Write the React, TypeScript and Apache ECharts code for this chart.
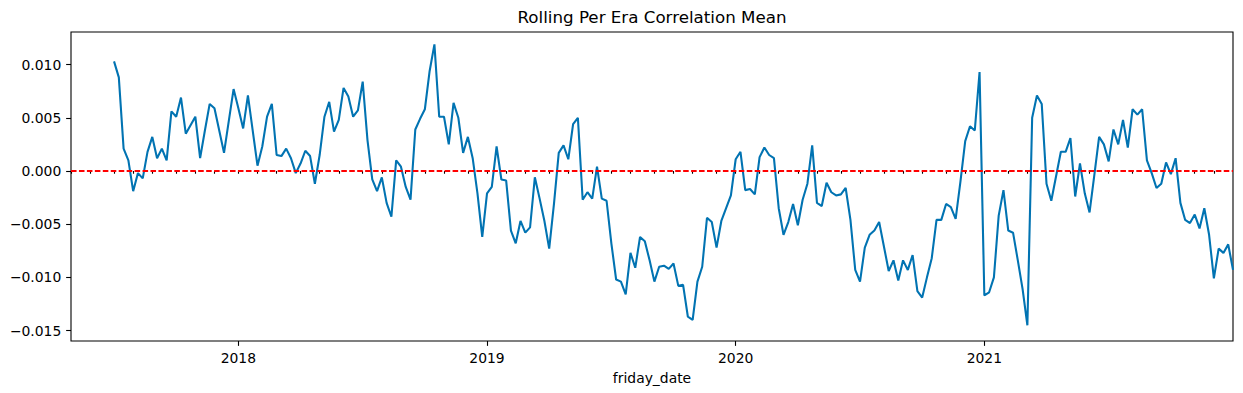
import React, { useEffect, useRef } from "react";
import * as echarts from "echarts";

// ---- data -------------------------------------------------------------
const TITLE = "Rolling Per Era Correlation Mean";
const X_NAME = "friday_date";
// weekly (W-FRI) index of the frame; the rolling window leaves the first weeks empty
const INDEX_START = "2017-05-05";
const INDEX_END = "2021-12-31";
const FIRST_VALID_FRIDAY = "2017-07-07";

const rollingCorrMean: number[] = [
  0.0103, 0.0088, 0.0021, 0.001, -0.0019, -0.0002, -0.0007, 0.0018, 0.0032, 0.0012,
  0.0021, 0.001, 0.0056, 0.0051, 0.0069, 0.0035, 0.0043, 0.0051, 0.0012, 0.0038,
  0.0063, 0.0059, 0.0038, 0.0017, 0.0047, 0.0077, 0.0059, 0.004, 0.0071, 0.0038,
  0.0005, 0.0023, 0.0051, 0.0063, 0.0015, 0.0014, 0.0021, 0.0012, -0.0002, 0.0007,
  0.0019, 0.0014, -0.0012, 0.0015, 0.0051, 0.0065, 0.0037, 0.0048, 0.0078, 0.007,
  0.0051, 0.0057, 0.0084, 0.0029, -0.0008, -0.0019, -0.0006, -0.003, -0.0043, 0.001,
  0.0004, -0.0015, -0.0027, 0.0039, 0.0049, 0.0058, 0.0094, 0.0119, 0.0051, 0.0051,
  0.0025, 0.0064, 0.005, 0.0017, 0.0032, 0.0012, -0.0021, -0.0062, -0.0021, -0.0015,
  0.0023, -0.0008, -0.0009, -0.0056, -0.0068, -0.0047, -0.0058, -0.0053, -0.0006, -0.0026,
  -0.0047, -0.0073, -0.0031, 0.0017, 0.0024, 0.0011, 0.0044, 0.005, -0.0027, -0.002,
  -0.0026, 0.0004, -0.0026, -0.0028, -0.0068, -0.0102, -0.0104, -0.0116, -0.0077, -0.0091,
  -0.0062, -0.0066, -0.0084, -0.0104, -0.009, -0.0089, -0.0092, -0.0087, -0.0108, -0.0107,
  -0.0137, -0.014, -0.0104, -0.009, -0.0044, -0.0048, -0.0072, -0.0047, -0.0035, -0.0023,
  0.0011, 0.0018, -0.0018, -0.0017, -0.0022, 0.0013, 0.0022, 0.0015, 0.0012, -0.0035,
  -0.006, -0.0048, -0.0031, -0.0051, -0.0027, -0.0012, 0.0024, -0.003, -0.0033, -0.0011,
  -0.002, -0.0023, -0.0022, -0.0016, -0.0046, -0.0093, -0.0104, -0.0072, -0.006, -0.0056,
  -0.0048, -0.0071, -0.0094, -0.0084, -0.0103, -0.0084, -0.0093, -0.0079, -0.0113, -0.0119,
  -0.01, -0.0082, -0.0046, -0.0046, -0.0031, -0.0034, -0.0045, -0.001, 0.0028, 0.0042,
  0.0038, 0.0093, -0.0117, -0.0114, -0.01, -0.0042, -0.0018, -0.0056, -0.0058, -0.0084,
  -0.0111, -0.0145, 0.005, 0.0071, 0.0063, -0.0012, -0.0028, -0.0005, 0.0018, 0.0018,
  0.0031, -0.0024, 0.0007, -0.0021, -0.0039, -0.0004, 0.0032, 0.0025, 0.0009, 0.0039,
  0.0025, 0.0048, 0.0022, 0.0058, 0.0053, 0.0058, 0.001, -0.0002, -0.0016, -0.0012,
  0.0008, -0.0003, 0.0012, -0.003, -0.0046, -0.0049, -0.0041, -0.0054, -0.0035, -0.006,
  -0.0101, -0.0073, -0.0077, -0.0069, -0.0093,
];

const Y_TICKS = [-0.015, -0.01, -0.005, 0, 0.005, 0.01];
const YEAR_LABELS = ["2018", "2019", "2020", "2021"];
const ZERO_LINE = 0;

// ---- helpers ----------------------------------------------------------
const DAY = 86400000;
const parse = (s: string) => {
  const [y, m, d] = s.split("-").map(Number);
  return Date.UTC(y, m - 1, d);
};
const weekIndex = (t: number) => Math.round((t - parse(INDEX_START)) / (7 * DAY));
const firstFriday = (y: number, m: number) => {
  for (let d = 1; d <= 7; d++) {
    const t = Date.UTC(y, m, d);
    if (new Date(t).getUTCDay() === 5) return t;
  }
  return Date.UTC(y, m, 1);
};

export default function App() {
  const ref = useRef<HTMLDivElement>(null);

  useEffect(() => {
    if (!ref.current) return;
    const chart = echarts.init(ref.current, undefined, { renderer: "svg" });

    const start = parse(FIRST_VALID_FRIDAY);
    const seriesData = rollingCorrMean.map((v, k) => [weekIndex(start + k * 7 * DAY), v]);

    const xMax = weekIndex(parse(INDEX_END));
    const monthTicks: number[] = [];
    const s = new Date(parse(INDEX_START));
    const e = new Date(parse(INDEX_END));
    for (let y = s.getUTCFullYear(); y <= e.getUTCFullYear(); y++) {
      for (let m = 0; m < 12; m++) {
        const t = firstFriday(y, m);
        const w = weekIndex(t);
        if (w >= 0 && w <= xMax) monthTicks.push(w);
      }
    }
    const yearTicks = YEAR_LABELS.map((y) => weekIndex(firstFriday(Number(y), 0)));

    const font = "DejaVu Sans";
    const fs = 13.9;

    chart.setOption({
      animation: false,
      textStyle: { fontFamily: font },
      grid: {
        left: 71,
        right: 10,
        top: 32,
        bottom: 52,
        show: true,
        borderColor: "#000",
        borderWidth: 1.1,
        backgroundColor: "transparent",
        containLabel: false,
      },
      graphic: [
        {
          type: "text",
          x: 652,
          y: 17,
          style: {
            text: TITLE,
            fontSize: 16.7,
            fontFamily: font,
            fill: "#000",
            align: "center",
            verticalAlign: "middle",
          },
        },
      ],
      xAxis: [
        {
          type: "value",
          min: 0,
          max: xMax,
          axisLine: { show: false },
          splitLine: { show: false },
          axisTick: {
            show: true,
            customValues: monthTicks,
            length: 2.78,
            lineStyle: { color: "#000", width: 1.1 },
          },
          axisLabel: {
            customValues: yearTicks,
            margin: 9.7,
            fontSize: fs,
            color: "#000",
            fontFamily: font,
            formatter: (v: number) => {
              const i = yearTicks.findIndex((t) => Math.abs(t - v) < 1e-6);
              return i >= 0 ? YEAR_LABELS[i] : "";
            },
          },
          name: X_NAME,
          nameLocation: "middle",
          nameGap: 30,
          nameTextStyle: { fontSize: fs, color: "#000", fontFamily: font },
        },
        {
          type: "value",
          min: 0,
          max: xMax,
          position: "bottom",
          axisLine: { show: false },
          splitLine: { show: false },
          axisLabel: { show: false },
          axisTick: {
            show: true,
            customValues: yearTicks,
            length: 4.86,
            lineStyle: { color: "#000", width: 1.1 },
          },
        },
      ],
      yAxis: {
        type: "value",
        min: -0.01598,
        max: 0.01306,
        axisLine: { show: false },
        splitLine: { show: false },
        axisTick: {
          show: true,
          customValues: Y_TICKS,
          length: 4.86,
          lineStyle: { color: "#000", width: 1.1 },
        },
        axisLabel: {
          customValues: Y_TICKS,
          margin: 9.7,
          fontSize: fs,
          color: "#000",
          fontFamily: font,
          formatter: (v: number) => (v < -1e-12 ? "\u2212" : "") + Math.abs(v).toFixed(3),
        },
      },
      series: [
        {
          type: "line",
          xAxisIndex: 0,
          data: seriesData,
          showSymbol: false,
          symbol: "none",
          lineStyle: { color: "#0173b2", width: 2.08 },
          z: 2,
          markLine: {
            silent: true,
            symbol: ["none", "none"],
            label: { show: false },
            lineStyle: { color: "#ff0000", width: 2.08, type: [5.55, 2.4] },
            data: [{ yAxis: ZERO_LINE }],
          },
        },
      ],
    });

    return () => chart.dispose();
  }, []);

  return (
    <div
      ref={ref}
      style={{ position: "absolute", left: 0, top: 0, width: 1243, height: 393, background: "#fff" }}
    />
  );
}
